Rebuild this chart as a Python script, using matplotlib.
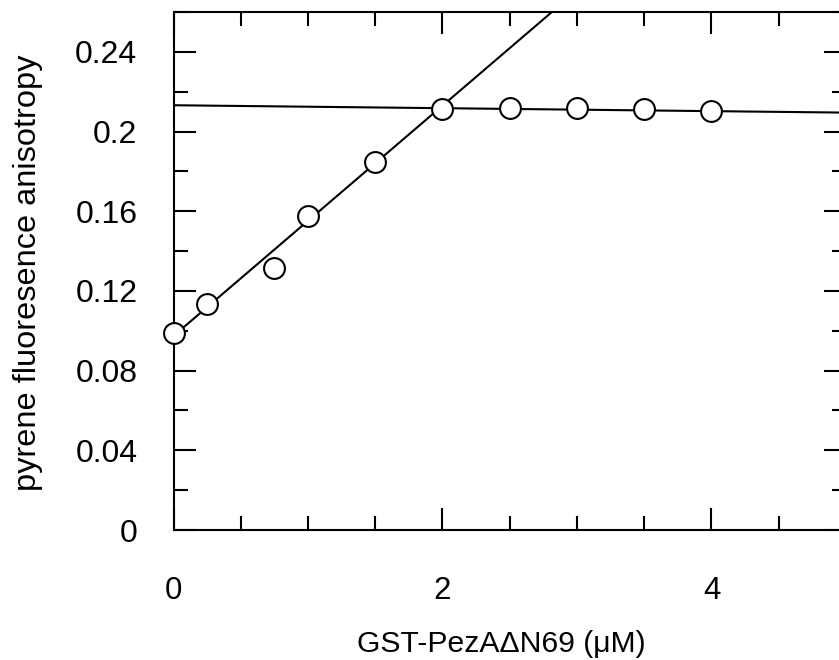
import numpy as np
import matplotlib.pyplot as plt
from matplotlib.ticker import MultipleLocator

plt.rcParams['font.family'] = ['Liberation Sans', 'DejaVu Sans']

# measured points
conc = [0, 0.25, 0.75, 1.0, 1.5, 2.0, 2.5, 3.0, 3.5, 4.0]
aniso = [0.0989, 0.1135, 0.1315, 0.1576, 0.1847, 0.2113, 0.2118, 0.2118, 0.2113, 0.2103]

# fitted lines (endpoints)
rise_x = [0, 2.9]
rise_y = [0.0974, 0.2650]
flat_x = [0, 5.0]
flat_y = [0.2132, 0.2095]

yticks = [0, 0.04, 0.08, 0.12, 0.16, 0.2, 0.24]
ylabels = ['0', '0.04', '0.08', '0.12', '0.16', '0.2', '0.24']
xticks = [0, 2, 4]

fig = plt.figure(figsize=(8.39, 6.6), dpi=100)
# axes run a little past the right edge (cropped like the original)
ax = fig.add_axes([173.5 / 839, 130 / 660, 672.5 / 839, 518 / 660])

ax.plot(rise_x, rise_y, color='black', lw=1.5, zorder=2)
ax.plot(flat_x, flat_y, color='black', lw=1.5, zorder=2)
ax.plot(conc, aniso, 'o', ms=15, mfc='white', mec='black', mew=1.5,
        zorder=3, clip_on=False)

ax.set_xlim(0, 5)
ax.set_ylim(0, 0.26)

ax.xaxis.set_minor_locator(MultipleLocator(0.5))
ax.yaxis.set_minor_locator(MultipleLocator(0.02))
ax.set_yticks(yticks)
ax.set_yticklabels(ylabels)
ax.set_xticks(xticks)
ax.set_xticklabels([str(x) for x in xticks])

ax.tick_params(which='both', direction='in', top=True, right=True, width=1.5)
ax.tick_params(which='major', length=16)
ax.tick_params(which='minor', length=10)
ax.tick_params(axis='x', which='major', pad=33, labelsize=22.5)
ax.tick_params(axis='y', which='major', pad=26, labelsize=23)

for s in ax.spines.values():
    s.set_linewidth(1.5)

fig.text(501 / 839, 1 - 644 / 660, 'GST-PezA\u0394N69 (\u03bcM)', fontsize=21.7,
         ha='center', va='center')
fig.text(28 / 839, 1 - 273 / 660, 'pyrene fluoresence anisotropy', fontsize=23.4,
         ha='center', va='center', rotation=90)

fig.savefig('out.png', dpi=100)
